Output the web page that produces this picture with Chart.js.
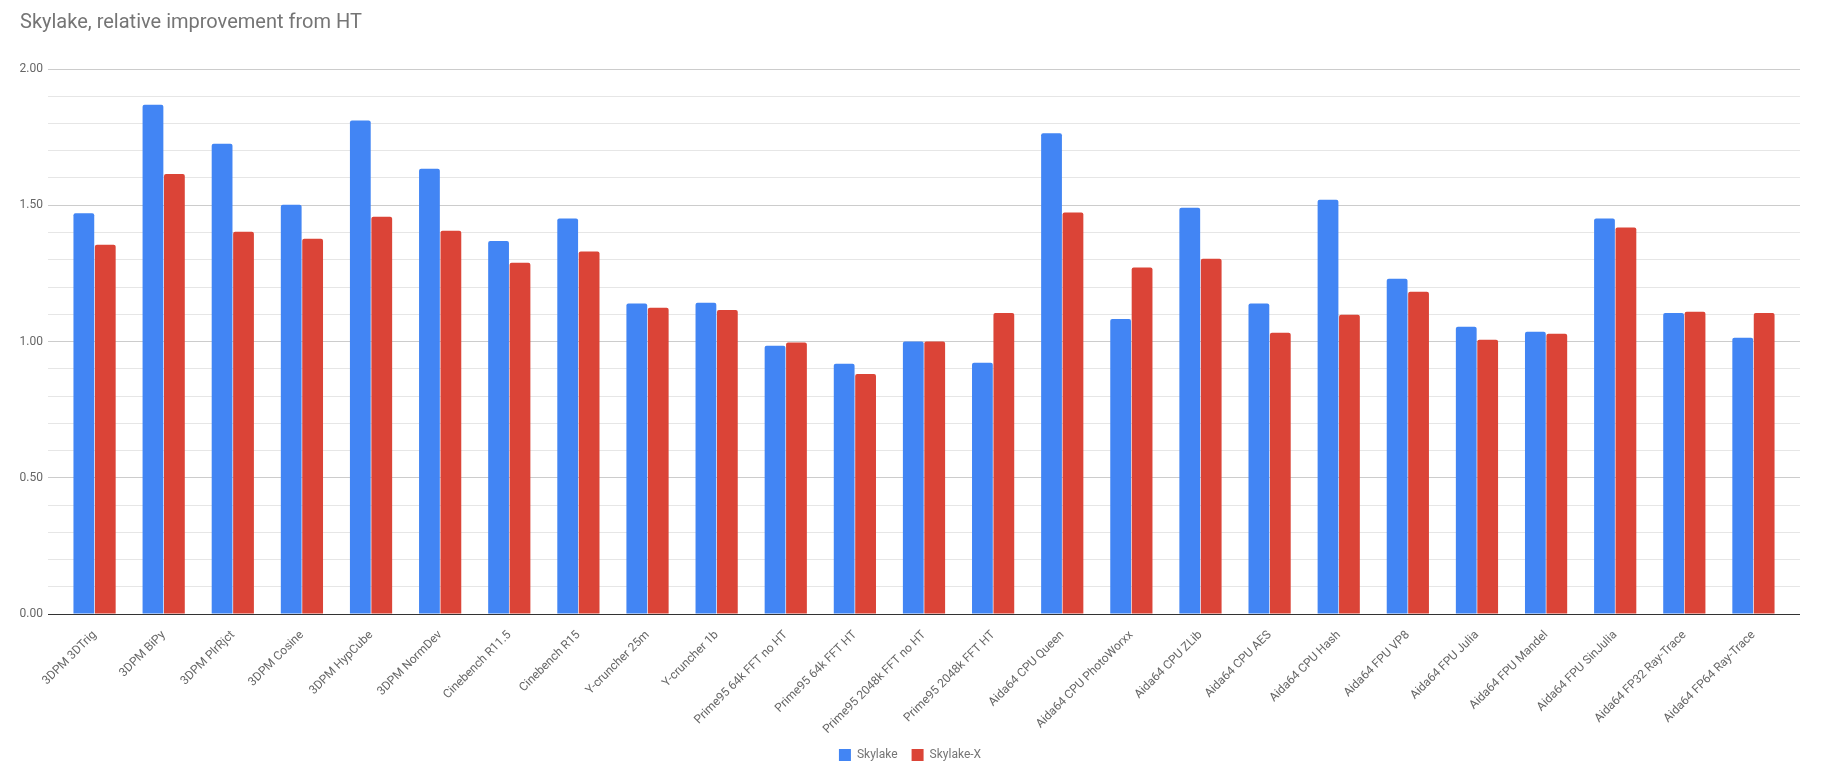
<!DOCTYPE html>
<html>
<head>
<meta charset="utf-8">
<script src="https://cdn.jsdelivr.net/npm/chart.js@4.4.1/dist/chart.umd.min.js"></script>
<style>
  html, body { margin: 0; padding: 0; background: #fff; }
  #wrap { width: 1823px; height: 778px; position: relative; }
</style>
</head>
<body>
<div id="wrap"><canvas id="c" width="1823" height="778"></canvas></div>
<script>
const categories = [
  "3DPM 3DTrig", "3DPM BiPy", "3DPM PlrRjct", "3DPM Cosine", "3DPM HypCube", "3DPM NormDev",
  "Cinebench R11.5", "Cinebench R15", "Y-cruncher 25m", "Y-cruncher 1b",
  "Prime95 64k FFT no HT", "Prime95 64k FFT HT", "Prime95 2048k FFT no HT", "Prime95 2048k FFT HT",
  "Aida64 CPU Queen", "Aida64 CPU PhotoWorxx", "Aida64 CPU ZLib", "Aida64 CPU AES", "Aida64 CPU Hash",
  "Aida64 FPU VP8", "Aida64 FPU Julia", "Aida64 FPU Mandel", "Aida64 FPU SinJulia",
  "Aida64 FP32 Ray-Trace", "Aida64 FP64 Ray-Trace"
];
const skylake = [
  1.471, 1.869, 1.726, 1.502, 1.811, 1.634,
  1.369, 1.451, 1.139, 1.142,
  0.984, 0.918, 1.000, 0.922,
  1.764, 1.083, 1.491, 1.139, 1.520,
  1.230, 1.054, 1.036, 1.451,
  1.105, 1.014
];
const skylakeX = [
  1.355, 1.615, 1.403, 1.377, 1.458, 1.406,
  1.289, 1.330, 1.124, 1.116,
  0.996, 0.881, 1.000, 1.105,
  1.473, 1.272, 1.304, 1.032, 1.098,
  1.183, 1.006, 1.028, 1.418,
  1.109, 1.105
];
const seriesNames = ["Skylake", "Skylake-X"];
const yMin = 0, yMax = 2, yStep = 0.1, yLabelEvery = 0.5;

function gridColor(ctx) {
  const v = ctx.tick ? ctx.tick.value : 0;
  if (Math.abs(v) < 1e-9) return '#333333';
  const k = Math.round(v / yStep);
  if (k % Math.round(yLabelEvery / yStep) === 0) return '#cccccc';
  return '#e6e6e6';
}

new Chart(document.getElementById('c'), {
  type: 'bar',
  data: {
    labels: categories,
    datasets: [
      { label: seriesNames[0], data: skylake, backgroundColor: '#4285F4', borderRadius: 2,
        categoryPercentage: 0.62, barPercentage: 0.97 },
      { label: seriesNames[1], data: skylakeX, backgroundColor: '#DB4437', borderRadius: 2,
        categoryPercentage: 0.62, barPercentage: 0.97 }
    ]
  },
  options: {
    responsive: false,
    animation: false,
    devicePixelRatio: 1,
    layout: { padding: { left: 20, right: 23, top: 10, bottom: 7 } },
    font: { family: 'Roboto' },
    plugins: {
      title: {
        display: true,
        text: 'Skylake, relative improvement from HT',
        align: 'start',
        color: '#757575',
        font: { family: 'Roboto', size: 20, weight: 'normal' },
        padding: { top: 1, bottom: 34 }
      },
      legend: {
        position: 'bottom',
        labels: {
          color: '#757575',
          font: { family: 'Roboto', size: 12 },
          boxWidth: 12, boxHeight: 12, padding: 14
        }
      },
      tooltip: { enabled: false }
    },
    scales: {
      x: {
        grid: { display: false },
        border: { display: false },
        ticks: {
          color: '#666666', font: { family: 'Roboto', size: 12 },
          autoSkip: false, minRotation: 45, maxRotation: 45, padding: 6
        },
        afterFit(scale) { scale.height = 121; }
      },
      y: {
        min: yMin, max: yMax,
        grid: { color: gridColor, tickLength: 12, lineWidth: 1 },
        border: { display: false },
        ticks: {
          stepSize: yStep, autoSkip: false, padding: 5,
          color: '#666666', font: { family: 'Roboto', size: 12 },
          callback(v) {
            const k = Math.round(v / yStep);
            return (k % Math.round(yLabelEvery / yStep) === 0) ? Number(v).toFixed(2) : '';
          }
        },
        afterFit(scale) { scale.width = 40; }
      },
      y2: {
        position: 'right',
        min: yMin, max: yMax,
        grid: { color: gridColor, tickLength: 12, drawOnChartArea: false },
        border: { display: false },
        ticks: { stepSize: yStep, autoSkip: false, display: false },
        afterFit(scale) { scale.width = 12; }
      }
    }
  }
});
</script>
</body>
</html>
